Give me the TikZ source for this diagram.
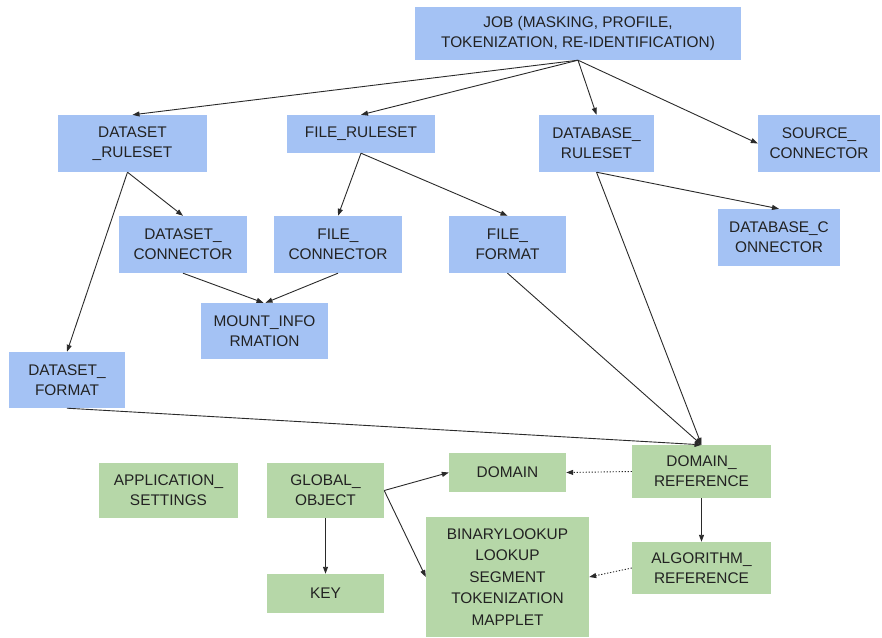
\documentclass[tikz,border=0pt]{standalone}
\usepackage{fontspec}
\setmainfont{Liberation Sans}
\usetikzlibrary{arrows.meta}
\definecolor{bluebox}{HTML}{A4C2F4}
\definecolor{greenbox}{HTML}{B6D7A8}
\definecolor{ink}{HTML}{222222}
\definecolor{wire}{HTML}{2A2A2A}
\tikzset{
  basebox/.style={rectangle, inner sep=0pt, align=center, text=ink,
    font=\fontsize{15.4}{20}\selectfont},
  bluenode/.style={basebox, fill=bluebox},
  greennode/.style={basebox, fill=greenbox},
  conn/.style={draw=wire, line width=0.9pt, -{Triangle[length=7pt,width=5pt]}},
  dotconn/.style={conn, dash pattern=on 1.3pt off 1.7pt}
}
\begin{document}
\begin{tikzpicture}[x=1pt,y=-1pt]
\useasboundingbox (0,0) rectangle (882,637);
% blue nodes
\node[bluenode, minimum width=326, minimum height=53] (job) at (578,33.5) {JOB (MASKING, PROFILE,\\TOKENIZATION, RE-IDENTIFICATION)};
\node[bluenode, minimum width=149, minimum height=57] (dsr) at (132.5,143.5) {DATASET\\\_RULESET};
\node[bluenode, minimum width=148, minimum height=38] (fr) at (361,134) {FILE\_RULESET};
\node[bluenode, minimum width=115, minimum height=57] (dbr) at (596.5,143.5) {DATABASE\_\\RULESET};
\node[bluenode, minimum width=122, minimum height=57] (sc) at (819,143.5) {SOURCE\_\\CONNECTOR};
\node[bluenode, minimum width=128, minimum height=57] (dsc) at (183,244.5) {DATASET\_\\CONNECTOR};
\node[bluenode, minimum width=128, minimum height=57] (fc) at (338,244.5) {FILE\_\\CONNECTOR};
\node[bluenode, minimum width=117, minimum height=57] (ff) at (507.5,244.5) {FILE\_\\FORMAT};
\node[bluenode, minimum width=122, minimum height=57] (dbc) at (779,237.5) {DATABASE\_C\\ONNECTOR};
\node[bluenode, minimum width=127, minimum height=56] (mi) at (264.5,331) {MOUNT\_INFO\\RMATION};
\node[bluenode, minimum width=116, minimum height=56] (dsf) at (67,380) {DATASET\_\\FORMAT};
% green nodes
\node[greennode, minimum width=139, minimum height=53] (dref) at (701.5,471.5) {DOMAIN\_\\REFERENCE};
\node[greennode, minimum width=139, minimum height=52] (aref) at (701.5,568) {ALGORITHM\_\\REFERENCE};
\node[greennode, minimum width=117, minimum height=39] (dom) at (507.5,472.5) {DOMAIN};
\node[greennode, minimum width=139, minimum height=55] (app) at (168.5,490.5) {APPLICATION\_\\SETTINGS};
\node[greennode, minimum width=117, minimum height=55] (glob) at (325.5,490.5) {GLOBAL\_\\OBJECT};
\node[greennode, minimum width=117, minimum height=39] (key) at (325.5,593.5) {KEY};
\node[greennode, minimum width=163, minimum height=120, font=\fontsize{15.4}{21.5}\selectfont] (bin) at (507.5,577) {BINARYLOOKUP\\LOOKUP\\SEGMENT\\TOKENIZATION\\MAPPLET};
% connectors
\draw[conn] (job.south) -- (dsr.north);
\draw[conn] (job.south) -- (fr.north);
\draw[conn] (job.south) -- (dbr.north);
\draw[conn] (job.south) -- (sc.west);
\draw[conn] ([xshift=-5pt]dsr.south) -- (dsc.north);
\draw[conn] ([xshift=-5pt]dsr.south) -- (dsf.north);
\draw[conn] (fr.south) -- (fc.north);
\draw[conn] (fr.south) -- (ff.north);
\draw[conn] (dbr.south) -- (dbc.north);
\draw[conn] (dbr.south) -- (dref.north);
\draw[conn] (dsc.south) -- ([xshift=-1pt]mi.north);
\draw[conn] (fc.south) -- ([xshift=1pt]mi.north);
\draw[conn] (ff.south) -- (dref.north);
\draw[conn] (dsf.south) -- (dref.north);
\draw[dotconn] (dref.west) -- (dom.east);
\draw[conn] (dref.south) -- (aref.north);
\draw[dotconn] (aref.west) -- (bin.east);
\draw[conn] (glob.east) -- (dom.west);
\draw[conn] (glob.east) -- (bin.west);
\draw[conn] (glob.south) -- (key.north);
\end{tikzpicture}
\end{document}
